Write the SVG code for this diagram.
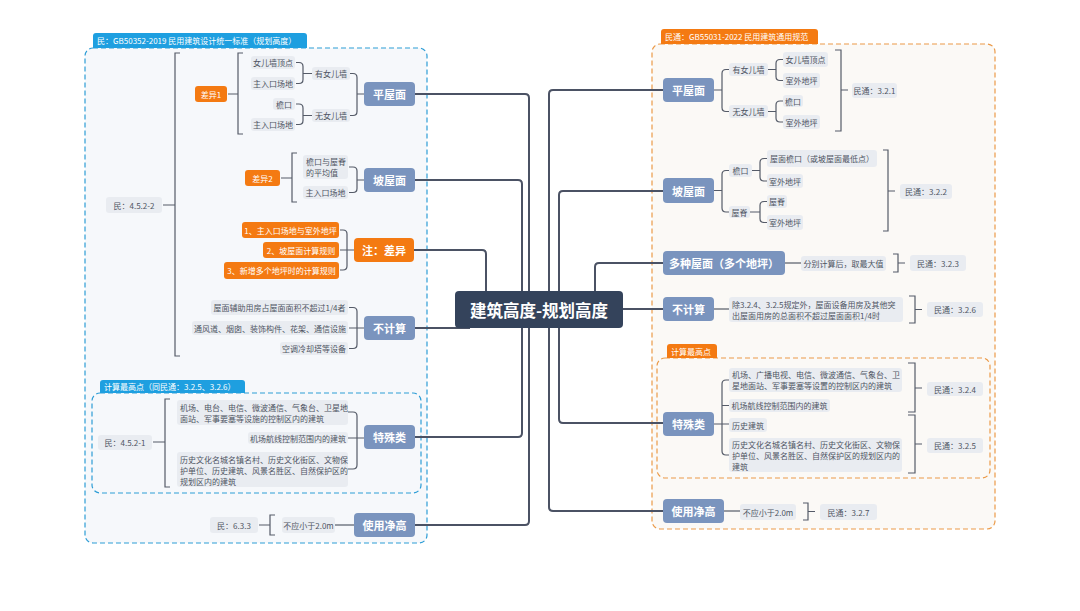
<svg xmlns="http://www.w3.org/2000/svg" width="1080" height="611" viewBox="0 0 1080 611">
<style>
text{font-family:"Noto Sans CJK SC","Noto Sans",sans-serif;dominant-baseline:central}
.bg{fill:#ffffff}
.lb rect{fill:#e9ecf1}
.lb text{font-size:8px;fill:#4f5563;text-anchor:middle}
.ml text{font-size:8px;fill:#4f5563;text-anchor:start}
.nd rect{fill:#7a94be}
.nd text{font-size:11px;font-weight:bold;fill:#fff;text-anchor:middle}
.on rect{fill:#f47a12}
.on text{font-size:11px;font-weight:bold;fill:#fff;text-anchor:middle}
.ol rect{fill:#f47a12}
.ol text{font-size:8px;fill:#fff;text-anchor:middle}
.tab text{font-size:8px;fill:#fff;text-anchor:start}
.bt rect{fill:#1e9fe0}
.ot rect{fill:#f47a12}
.main{fill:none;stroke:#4b5264;stroke-width:2}
.br{fill:none;stroke:#555b68;stroke-width:1.2}
.bbox{fill:#f6f8fb;stroke:#2d9dd6;stroke-width:1.2;stroke-dasharray:5 3}
.obox{fill:#fbf9f6;stroke:#eb9a48;stroke-width:1.2;stroke-dasharray:5 3}
</style>
<rect class="bg" width="1080" height="611"/>

<!-- containers -->
<g id="left-panel">
<rect class="bbox" x="85" y="48" width="342" height="495" rx="8"/>
<g class="tab bt"><rect x="93" y="33" width="214" height="15" rx="3"/><rect x="93" y="42" width="214" height="6"/><text x="97" y="40.5">民：GB50352-2019 民用建筑设计统一标准（规划高度）</text></g>
<rect class="bbox" x="92" y="393" width="329" height="100" rx="8"/>
<g class="tab bt"><rect x="100" y="380" width="145" height="13" rx="3"/><rect x="100" y="388" width="145" height="5"/><text x="104" y="386.5">计算最高点（同民通：3.2.5、3.2.6）</text></g>
</g>
<g id="right-panel">
<rect class="obox" x="652" y="44" width="343" height="485" rx="8"/>
<g class="tab ot"><rect x="661" y="29" width="157" height="15" rx="3"/><rect x="661" y="38" width="157" height="6"/><text x="665" y="36.5">民通：GB55031-2022 民用建筑通用规范</text></g>
<rect class="obox" x="657" y="358" width="333" height="120" rx="8"/>
<g class="tab ot"><rect x="667" y="344" width="50" height="14" rx="3"/><rect x="667" y="352" width="50" height="6"/><text x="671" y="351">计算最高点</text></g>
</g>

<!-- connectors -->
<g id="connectors">
<path class="main" d="M415,94 H525 Q529,94 529,98 V521 Q529,525 525,525 H415"/>
<path class="main" d="M415,180 H518 Q522,180 522,184 V433 Q522,437 518,437 H415"/>
<path class="main" d="M414,250 H482 Q486,250 486,254 V292"/>
<path class="main" d="M415,328 H470"/>
<path class="main" d="M663,90 H553 Q549,90 549,94 V507 Q549,511 553,511 H663"/>
<path class="main" d="M663,191 H563 Q559,191 559,195 V419 Q559,423 563,423 H663"/>
<path class="main" d="M663,263 H599 Q595,263 595,267 V292"/>
<path class="main" d="M620,309 H663"/>

<!-- left small -->
<path class="br" d="M296,62.5 H299 Q303,62.5 303,66.5 V79.5 Q303,83.5 299,83.5 H296 M303,73.5 H312"/>
<path class="br" d="M296,104 H299 Q303,104 303,108 V120.5 Q303,124.5 299,124.5 H296 M303,115.5 H312"/>
<path class="br" d="M350,73.5 H353 Q357,73.5 357,77.5 V111.5 Q357,115.5 353,115.5 H350 M357,94 H364"/>
<path class="br" d="M243,53 H238 V134 H243 M238,94 H228"/>
<path class="br" d="M349,167 H353 Q357,167 357,171 V188.5 Q357,192.5 353,192.5 H349 M357,180 H364"/>
<path class="br" d="M297,153 H292 V202 H297 M292,178 H281"/>
<path class="br" d="M340,230 H343 Q347,230 347,234 V266 Q347,270 343,270 H340 M347,250 H354 M340,250 H347"/>
<path class="br" d="M349,307.5 H353 Q357,307.5 357,311.5 V344.5 Q357,348.5 353,348.5 H349 M349,328 H364"/>
<path class="br" d="M180,53 H175 V356 H180 M175,205 H163"/>
<path class="br" d="M348,412 H353 Q357,412 357,416 V465 Q357,469 353,469 H348 M348,438 H364"/>
<path class="br" d="M170,399 H165 V487 H170 M165,442 H153"/>
<path class="br" d="M335,525 H354"/>
<path class="br" d="M275,515 H270 V535 H275 M270,525 H259"/>

<!-- right small -->
<path class="br" d="M729,69.5 H726 Q722,69.5 722,73.5 V107.5 Q722,111.5 726,111.5 H729 M714,90 H722"/>
<path class="br" d="M783,59.5 H780 Q776,59.5 776,63.5 V76.5 Q776,80.5 780,80.5 H783 M768,69.5 H776"/>
<path class="br" d="M783,101 H780 Q776,101 776,105 V118 Q776,122 780,122 H783 M768,111.5 H776"/>
<path class="br" d="M835,50 H841 V131 H835 M841,90 H848"/>
<path class="br" d="M729,170.5 H726 Q722,170.5 722,174.5 V208 Q722,212 726,212 H729 M714,190.5 H722"/>
<path class="br" d="M767,158.5 H764 Q760,158.5 760,162.5 V177 Q760,181 764,181 H767 M752,170.5 H760"/>
<path class="br" d="M767,201.5 H764 Q760,201.5 760,205.5 V218.5 Q760,222.5 764,222.5 H767 M750,212 H760"/>
<path class="br" d="M883,150 H888 V231 H883 M888,191 H895"/>
<path class="br" d="M785,263 H801"/>
<path class="br" d="M893,254 H898 V272 H893 M898,263 H905"/>
<path class="br" d="M714,309 H729"/>
<path class="br" d="M909,296 H915 V323 H909 M915,309.5 H922"/>
<path class="br" d="M729,380 H726 Q722,380 722,384 V451 Q722,455 726,455 H729 M722,405.5 H729 M714,424 H729"/>
<path class="br" d="M908,363 H915 V412 H908 M915,388 H922"/>
<path class="br" d="M908,415 H915 V473 H908 M915,444 H922"/>
<path class="br" d="M724,511 H740"/>
<path class="br" d="M803,503 H808 V520 H803 M808,511.5 H815"/>
</g>

<!-- center -->
<g id="center"><rect x="455" y="291" width="168" height="37" rx="4" fill="#34435b"/><text x="539" y="309.5" font-size="16.5" font-weight="bold" fill="#fff" text-anchor="middle">建筑高度-规划高度</text></g>

<!-- left nodes -->
<g id="l-flat" class="nd"><rect x="364" y="82" width="51" height="24" rx="4"/><text x="389.5" y="94">平屋面</text></g>
<g id="l-flat-a" class="lb"><rect x="312" y="67" width="38" height="13" rx="3"/><text x="331" y="73.5">有女儿墙</text></g>
<g id="l-flat-b" class="lb"><rect x="312" y="109" width="38" height="13" rx="3"/><text x="331" y="115.5">无女儿墙</text></g>
<g id="l-flat-a1" class="lb"><rect x="251" y="56" width="44" height="13" rx="3"/><text x="273" y="62.5">女儿墙顶点</text></g>
<g id="l-flat-a2" class="lb"><rect x="251" y="77" width="44" height="13" rx="3"/><text x="273" y="83.5">主入口场地</text></g>
<g id="l-flat-b1" class="lb"><rect x="273" y="98" width="22" height="12" rx="3"/><text x="284" y="104">檐口</text></g>
<g id="l-flat-b2" class="lb"><rect x="251" y="118" width="44" height="13" rx="3"/><text x="273" y="124.5">主入口场地</text></g>
<g id="l-diff1" class="on"><rect x="195" y="86" width="32" height="16" rx="3"/><text x="211" y="94" style="font-size:8px;font-weight:normal">差异1</text></g>

<g id="l-slope" class="nd"><rect x="364" y="168" width="51" height="24" rx="4"/><text x="389.5" y="180">坡屋面</text></g>
<g id="l-slope-1" class="ml"><rect x="303" y="155" width="45" height="24" rx="3" fill="#e9ecf1"/><text x="306" y="161.5">檐口与屋脊</text><text x="306" y="172.5">的平均值</text></g>
<g id="l-slope-2" class="lb"><rect x="303" y="186" width="45" height="13" rx="3"/><text x="325.5" y="192.5">主入口场地</text></g>
<g id="l-diff2" class="on"><rect x="245" y="170" width="35" height="16" rx="3"/><text x="262.5" y="178" style="font-size:8px;font-weight:normal">差异2</text></g>

<g id="l-note" class="on"><rect x="354" y="238" width="60" height="24" rx="4"/><text x="384" y="250">注：差异</text></g>
<g id="l-note-1" class="ol"><rect x="242" y="222" width="97" height="16" rx="3"/><text x="290.5" y="230">1、主入口场地与室外地坪</text></g>
<g id="l-note-2" class="ol"><rect x="263" y="242" width="76" height="16" rx="3"/><text x="301" y="250">2、坡屋面计算规则</text></g>
<g id="l-note-3" class="ol"><rect x="224" y="262" width="115" height="17" rx="3"/><text x="281.5" y="270.5">3、新增多个地坪时的计算规则</text></g>

<g id="l-nocalc" class="nd"><rect x="364" y="316" width="51" height="24" rx="4"/><text x="389.5" y="328">不计算</text></g>
<g id="l-nocalc-1" class="lb"><rect x="211" y="300" width="137" height="15" rx="3"/><text x="279.5" y="307.5">屋面辅助用房占屋面面积不超过1/4者</text></g>
<g id="l-nocalc-2" class="lb"><rect x="192" y="321" width="156" height="14" rx="3"/><text x="270" y="328">通风道、烟囱、装饰构件、花架、通信设施</text></g>
<g id="l-nocalc-3" class="lb"><rect x="280" y="342" width="68" height="13" rx="3"/><text x="314" y="348.5">空调冷却塔等设备</text></g>
<g id="l-ref1" class="lb"><rect x="106" y="197" width="56" height="16" rx="3"/><text x="134" y="205">民：4.5.2-2</text></g>

<g id="l-special" class="nd"><rect x="364" y="425" width="51" height="24" rx="4"/><text x="389.5" y="437">特殊类</text></g>
<g id="l-special-1" class="ml"><rect x="177" y="400" width="171" height="25" rx="3" fill="#e9ecf1"/><text x="180" y="407">机场、电台、电信、微波通信、气象台、卫星地</text><text x="180" y="418">面站、军事要塞等设施的控制区内的建筑</text></g>
<g id="l-special-2" class="lb"><rect x="248" y="432" width="100" height="12" rx="3"/><text x="298" y="438">机场航线控制范围内的建筑</text></g>
<g id="l-special-3" class="ml"><rect x="177" y="452" width="171" height="35" rx="3" fill="#e9ecf1"/><text x="180" y="459">历史文化名城名镇名村、历史文化街区、文物保</text><text x="180" y="470">护单位、历史建筑、风景名胜区、自然保护区的</text><text x="180" y="481">规划区内的建筑</text></g>
<g id="l-ref2" class="lb"><rect x="98" y="435" width="54" height="15" rx="3"/><text x="125" y="442.5">民：4.5.2-1</text></g>

<g id="l-clear" class="nd"><rect x="354" y="513" width="61" height="24" rx="4"/><text x="384.5" y="525">使用净高</text></g>
<g id="l-clear-1" class="lb"><rect x="282" y="517" width="53" height="16" rx="3"/><text x="308.5" y="525">不应小于2.0m</text></g>
<g id="l-ref3" class="lb"><rect x="210" y="517" width="48" height="16" rx="3"/><text x="234" y="525">民：6.3.3</text></g>

<!-- right nodes -->
<g id="r-flat" class="nd"><rect x="663" y="78" width="51" height="24" rx="4"/><text x="688.5" y="90">平屋面</text></g>
<g id="r-flat-a" class="lb"><rect x="729" y="63" width="39" height="13" rx="3"/><text x="748.5" y="69.5">有女儿墙</text></g>
<g id="r-flat-b" class="lb"><rect x="729" y="105" width="39" height="13" rx="3"/><text x="748.5" y="111.5">无女儿墙</text></g>
<g id="r-flat-a1" class="lb"><rect x="783" y="52" width="45" height="15" rx="3"/><text x="805.5" y="59.5">女儿墙顶点</text></g>
<g id="r-flat-a2" class="lb"><rect x="783" y="73" width="37" height="15" rx="3"/><text x="801.5" y="80.5">室外地坪</text></g>
<g id="r-flat-b1" class="lb"><rect x="783" y="95" width="20" height="12" rx="3"/><text x="793" y="101">檐口</text></g>
<g id="r-flat-b2" class="lb"><rect x="783" y="115" width="37" height="14" rx="3"/><text x="801.5" y="122">室外地坪</text></g>
<g id="r-ref1" class="lb"><rect x="852" y="83" width="45" height="15" rx="3"/><text x="874.5" y="90.5">民通：3.2.1</text></g>

<g id="r-slope" class="nd"><rect x="663" y="178" width="51" height="25" rx="4"/><text x="688.5" y="190.5">坡屋面</text></g>
<g id="r-slope-a" class="lb"><rect x="729" y="164" width="23" height="13" rx="3"/><text x="740.5" y="170.5">檐口</text></g>
<g id="r-slope-b" class="lb"><rect x="729" y="206" width="21" height="12" rx="3"/><text x="739.5" y="212">屋脊</text></g>
<g id="r-slope-a1" class="lb"><rect x="767" y="150" width="110" height="17" rx="3"/><text x="822" y="158.5">屋面檐口（或坡屋面最低点）</text></g>
<g id="r-slope-a2" class="lb"><rect x="767" y="174" width="36" height="14" rx="3"/><text x="785" y="181">室外地坪</text></g>
<g id="r-slope-b1" class="lb"><rect x="767" y="195" width="20" height="13" rx="3"/><text x="777" y="201.5">屋脊</text></g>
<g id="r-slope-b2" class="lb"><rect x="767" y="215" width="36" height="15" rx="3"/><text x="785" y="222.5">室外地坪</text></g>
<g id="r-ref2" class="lb"><rect x="900" y="184" width="52" height="15" rx="3"/><text x="926" y="191.5">民通：3.2.2</text></g>

<g id="r-multi" class="nd"><rect x="663" y="251" width="122" height="24" rx="4"/><text x="724" y="263">多种屋面（多个地坪）</text></g>
<g id="r-multi-1" class="lb"><rect x="801" y="256" width="85" height="15" rx="3"/><text x="843.5" y="263.5">分别计算后，取最大值</text></g>
<g id="r-ref3" class="lb"><rect x="910" y="255" width="56" height="16" rx="3"/><text x="938" y="263">民通：3.2.3</text></g>

<g id="r-nocalc" class="nd"><rect x="663" y="297" width="51" height="24" rx="4"/><text x="688.5" y="309">不计算</text></g>
<g id="r-nocalc-1" class="ml"><rect x="729" y="297" width="174" height="25" rx="3" fill="#e9ecf1"/><text x="732" y="304">除3.2.4、3.2.5规定外，屋面设备用房及其他突</text><text x="732" y="315">出屋面用房的总面积不超过屋面面积1/4时</text></g>
<g id="r-ref4" class="lb"><rect x="927" y="302" width="56" height="15" rx="3"/><text x="955" y="309.5">民通：3.2.6</text></g>

<g id="r-special" class="nd"><rect x="663" y="412" width="51" height="24" rx="4"/><text x="688.5" y="424">特殊类</text></g>
<g id="r-special-1" class="ml"><rect x="729" y="368" width="173" height="24" rx="3" fill="#e9ecf1"/><text x="732" y="374.5">机场、广播电视、电信、微波通信、气象台、卫</text><text x="732" y="385.5">星地面站、军事要塞等设置的控制区内的建筑</text></g>
<g id="r-special-2" class="lb"><rect x="729" y="399" width="101" height="13" rx="3"/><text x="779.5" y="405.5">机场航线控制范围内的建筑</text></g>
<g id="r-special-3" class="lb"><rect x="729" y="418" width="38" height="14" rx="3"/><text x="748" y="425">历史建筑</text></g>
<g id="r-special-4" class="ml"><rect x="729" y="438" width="173" height="34" rx="3" fill="#e9ecf1"/><text x="732" y="444.5">历史文化名城名镇名村、历史文化街区、文物保</text><text x="732" y="455.5">护单位、风景名胜区、自然保护区的规划区内的</text><text x="732" y="466.5">建筑</text></g>
<g id="r-ref5" class="lb"><rect x="927" y="382" width="56" height="14" rx="3"/><text x="955" y="389">民通：3.2.4</text></g>
<g id="r-ref6" class="lb"><rect x="927" y="438" width="56" height="15" rx="3"/><text x="955" y="445.5">民通：3.2.5</text></g>

<g id="r-clear" class="nd"><rect x="663" y="499" width="61" height="24" rx="4"/><text x="693.5" y="511">使用净高</text></g>
<g id="r-clear-1" class="lb"><rect x="740" y="504" width="56" height="16" rx="3"/><text x="768" y="512">不应小于2.0m</text></g>
<g id="r-ref7" class="lb"><rect x="820" y="504" width="57" height="16" rx="3"/><text x="848.5" y="512">民通：3.2.7</text></g>
</svg>
